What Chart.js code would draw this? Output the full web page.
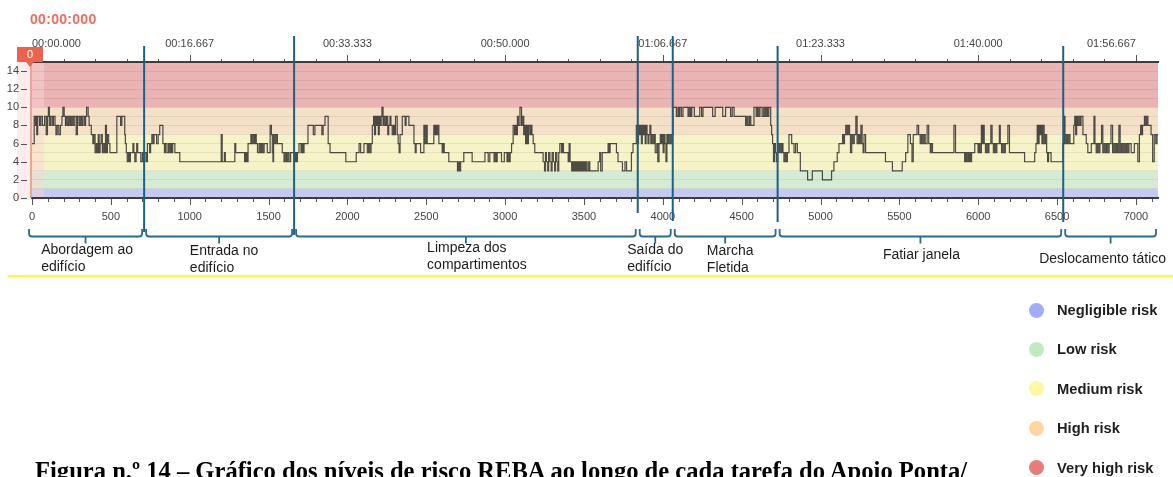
<!DOCTYPE html>
<html>
<head>
<meta charset="utf-8">
<script src="https://cdn.jsdelivr.net/npm/chart.js@4.4.0/dist/chart.umd.min.js"></script>
<style>
  html, body { margin: 0; padding: 0; background: #fff; }
  #wrap { position: relative; width: 1173px; height: 477px; overflow: hidden; font-family: "Liberation Sans", Arial, sans-serif; }
  #rebaChart { position: absolute; left: 0; top: 0; }
  #clock { position: absolute; left: 30px; top: 11px; font-size: 14px; font-weight: bold; color: #f26b5b; letter-spacing: 0.3px; }
  #marker { position: absolute; top: 47px; width: 26px; height: 15px; background: #e9634f; color: #fff; font-size: 11px; line-height: 15px; text-align: center; }
  #marker::after { content: ""; position: absolute; left: 9px; top: 15px; border-left: 4px solid transparent; border-right: 4px solid transparent; border-top: 5px solid #e9634f; }
  .task { position: absolute; transform: translateX(-50%); font-size: 14px; line-height: 17px; color: #1c1c1c; white-space: nowrap; }
  #rule { position: absolute; left: 8px; right: 0; top: 275px; height: 2px; background: #fbfb3c; }
  .leg { position: absolute; left: 1029px; height: 16px; font-size: 14.7px; font-weight: bold; color: #1e1e1e; line-height: 16px; white-space: nowrap; }
  .leg i { position: absolute; left: 0; top: 0.5px; width: 15px; height: 15px; border-radius: 50%; }
  .leg span { position: absolute; left: 28px; top: 0; }
  #caption { position: absolute; left: 35px; font-family: "Liberation Serif", "Times New Roman", serif; font-weight: bold; color: #000; white-space: nowrap; }
</style>
</head>
<body>
<div id="wrap">
  <canvas id="rebaChart" width="1173" height="477"></canvas>
  <div id="clock">00:00:000</div>
  <div id="marker">0</div>
  <div id="rule"></div>
  <div id="caption">Figura n.º 14 – Gráfico dos níveis de risco REBA ao longo de cada tarefa do Apoio Ponta/</div>
</div>
<script>
// video frames (60 fps) and REBA score, one pair per step change
const FPS = 60;
const playheadFrame = 0;

const abordagemSteps = [
  [0,6],[14,9],[22,8],[26,9],[30,7],[36,9],[48,8],[56,9],[66,8],[80,9],[90,7],[98,9],[104,10],[110,8],
  [118,9],[128,8],[136,9],[146,8],[152,7],[160,8],[170,7],[180,8],[190,9],[196,10],[204,9],[212,8],
  [220,9],[228,8],[236,9],[244,8],[252,9],[260,8],[268,9],[280,7],[288,9],[298,8],[306,9],[314,8],
  [322,9],[332,8],[340,9],[346,10],[356,9],[362,8],[376,7],[386,6],[392,7],[400,5],[408,6],[414,5],
  [420,7],[426,5],[432,6],[438,7],[446,5],[452,6],[460,5],[466,8],[472,5],[478,7],[486,6],[494,5],
  [538,9],[562,8],[570,9],[588,7],[592,6],[598,5],[604,4],[612,5],[618,4],[624,5],[640,6],[646,5],
  [652,4],[660,5],[664,6],[670,5],[690,4],[700,5],[708,4]
];
const entradaSteps = [
  [716,5],[726,4],[732,6],[746,5],[752,6],[760,7],[768,6],[774,7],[790,6],[800,7],[810,8],[830,6],
  [840,5],[846,6],[856,5],[866,6],[874,5],[880,6],[886,5],[892,6],[906,5],[937,4],[1200,7],[1206,4],
  [1220,5],[1226,4],[1286,6],[1292,5],[1348,4],[1352,5],[1356,4],[1360,5],[1366,4],[1370,6],[1388,7],
  [1394,6],[1402,7],[1410,6],[1416,7],[1422,6],[1430,5],[1440,6],[1448,5],[1456,6],[1464,5],[1472,6],
  [1492,5],[1510,8],[1518,7],[1524,5],[1528,4],[1532,7],[1540,6],[1548,7],[1556,6],[1587,5],[1598,4],
  [1606,5],[1614,4],[1622,5],[1630,4],[1640,5],[1662,4]
];
const limpezaSteps = [
  [1670,5],[1676,4],[1683,5],[1693,6],[1706,5],[1712,6],[1718,5],[1725,6],[1750,8],[1784,7],[1794,8],
  [1838,7],[1846,8],[1858,9],[1878,6],[1890,5],[1990,4],[2056,5],[2074,6],[2084,5],[2105,6],[2126,5],
  [2134,6],[2142,5],[2150,6],[2158,8],[2166,9],[2172,7],[2178,9],[2184,8],[2190,9],[2196,7],[2202,9],
  [2208,8],[2214,9],[2219,10],[2226,8],[2232,9],[2240,8],[2248,9],[2256,7],[2262,8],[2270,9],[2276,8],
  [2284,7],[2292,8],[2298,7],[2305,9],[2316,7],[2322,6],[2328,5],[2334,7],[2348,9],[2366,8],[2372,9],
  [2390,8],[2422,6],[2430,5],[2436,6],[2464,5],[2485,8],[2492,6],[2500,8],[2506,6],[2548,8],[2554,7],
  [2560,8],[2566,7],[2572,8],[2580,6],[2601,5],[2608,6],[2614,5],[2643,4],[2698,3],[2704,4],[2710,3],
  [2718,4],[2738,5],[2791,4],[2872,5],[2893,4],[2903,5],[2930,4],[2936,5],[2944,4],[2950,5],[2977,4],
  [2995,5],[3012,4],[3018,5],[3026,4],[3032,5],[3041,6],[3051,8],[3060,7],[3066,8],[3072,7],[3078,9],
  [3084,8],[3094,10],[3104,8],[3112,9],[3118,7],[3124,8],[3130,6],[3136,8],[3142,6],[3148,8],[3157,7],
  [3163,8],[3170,7],[3178,6],[3188,5],[3241,4],[3250,3],[3256,5],[3262,4],[3270,3],[3276,5],[3284,4],
  [3292,3],[3298,5],[3306,4],[3314,3],[3320,5],[3328,4],[3334,3],[3340,5],[3347,6],[3358,5],[3364,6],
  [3370,5],[3400,4],[3406,6],[3412,4],[3422,3],[3428,4],[3434,3],[3440,4],[3446,3],[3452,4],[3458,3],
  [3464,4],[3470,3],[3476,4],[3482,3],[3488,4],[3494,3],[3500,4],[3506,3],[3512,4],[3520,3],[3530,4],
  [3537,3],[3590,4],[3600,5],[3606,3],[3616,5],[3653,6],[3660,5],[3666,6],[3706,5],[3716,4],[3744,3],
  [3760,4],[3770,3],[3801,5],[3811,6],[3832,8]
];
const saidaSteps = [
  [3840,6],[3846,8],[3852,7],[3858,8],[3864,6],[3870,8],[3876,7],[3882,8],[3888,6],[3894,8],[3900,7],
  [3906,6],[3912,7],[3918,8],[3924,6],[3930,7],[3938,6],[3946,7],[3952,5],[3962,6],[3968,4],[3976,6],
  [3984,7],[3990,6],[3996,7],[4002,5],[4008,7],[4014,6],[4020,4],[4026,7],[4032,6],[4038,7],[4046,6],
  [4054,7]
];
const marchaSteps = [
  [4064,10],[4086,9],[4096,10],[4102,9],[4108,10],[4118,9],[4128,10],[4160,9],[4168,10],[4176,9],
  [4184,10],[4200,9],[4234,10],[4246,9],[4255,10],[4316,9],[4332,10],[4380,9],[4398,10],[4430,9],
  [4440,10],[4452,9],[4525,8],[4533,9],[4541,8],[4550,9],[4558,8],[4578,10],[4592,9],[4600,10],
  [4608,9],[4616,10],[4630,9],[4640,10],[4648,9],[4656,10],[4664,9],[4672,10],[4684,8],[4690,7],
  [4696,6],[4702,4],[4708,6],[4714,5],[4720,4]
];
const fatiarSteps = [
  [4728,6],[4736,5],[4742,6],[4750,5],[4756,6],[4762,5],[4768,4],[4776,5],[4782,4],[4790,5],[4800,7],
  [4817,6],[4832,5],[4842,6],[4853,5],[4872,3],[4918,2],[4948,3],[5012,2],[5070,3],[5085,4],[5106,5],
  [5117,6],[5140,7],[5146,6],[5152,7],[5160,8],[5168,7],[5176,8],[5184,7],[5190,5],[5198,7],[5206,6],
  [5214,7],[5224,9],[5232,6],[5240,7],[5248,6],[5256,8],[5264,6],[5270,5],[5276,7],[5286,5],[5412,4],
  [5456,3],[5518,4],[5540,5],[5554,7],[5570,6],[5580,4],[5588,7],[5612,8],[5622,7],[5632,6],[5640,7],
  [5648,6],[5656,7],[5664,6],[5676,8],[5686,6],[5696,5],[5702,6],[5710,5],[5846,8],[5856,5],[5914,4],
  [5920,5],[5926,4],[5934,5],[5940,4],[5946,5],[5952,4],[5958,5],[5978,6],[5999,5],[6006,6],[6012,5],
  [6020,8],[6026,6],[6032,8],[6038,6],[6046,5],[6054,6],[6062,5],[6068,6],[6080,8],[6088,6],[6096,5],
  [6104,6],[6112,5],[6118,6],[6134,8],[6140,6],[6148,5],[6156,6],[6164,5],[6172,6],[6188,8],[6198,5],
  [6294,4],[6358,5],[6366,6],[6374,8],[6380,6],[6386,8],[6392,7],[6398,8],[6404,6],[6410,8],[6418,6],
  [6426,7],[6434,5],[6440,4],[6446,5],[6462,4]
];
const deslocamentoSteps = [
  [6537,6],[6544,9],[6550,6],[6558,7],[6566,6],[6574,7],[6582,6],[6606,8],[6612,9],[6618,7],[6624,9],
  [6630,8],[6638,9],[6646,8],[6652,9],[6664,7],[6685,6],[6695,5],[6717,6],[6734,9],[6740,6],[6748,5],
  [6756,6],[6764,5],[6772,6],[6782,8],[6790,5],[6798,6],[6806,5],[6814,6],[6822,5],[6830,6],[6842,8],
  [6852,5],[6860,6],[6868,5],[6876,6],[6884,5],[6892,8],[6900,5],[6908,6],[6916,5],[6924,6],[6932,5],
  [6940,6],[6948,5],[6956,6],[6970,5],[6990,6],[7012,4],[7022,7],[7030,8],[7036,7],[7042,8],[7054,9],
  [7062,8],[7068,9],[7076,8],[7096,7],[7106,4],[7116,7],[7126,6],[7134,7],[7140,7]
];

const taskNames = [
  ['Abordagem ao', 'edifício'], ['Entrada no', 'edifício'], ['Limpeza dos', 'compartimentos'],
  ['Saída do', 'edifício'], ['Marcha', 'Fletida'], ['Fatiar janela'], ['Deslocamento tático']
];
const taskEdges = [0, 711, 1662, 3841, 4063, 4728, 6539, 7140];

const riskNames = ['Negligible risk', 'Low risk', 'Medium risk', 'High risk', 'Very high risk'];
const riskLower = [0, 1, 3, 7, 10];
const riskUpper = [1, 3, 7, 10, 15];

// styling
const bandFills = ['#c6c9f2', '#d6ebd3', '#f7f3c9', '#f4e0c6', '#ebb4b4'];
const legendDots = ['#a2acf8', '#c4e8c2', '#fdf8a4', '#fdd6a2', '#e87b7b'];
const lineBlue = '#1f5f84';
const lineTops = [46, 36, 36, 36, 46, 46];
const lineBottoms = [232, 235, 213, 221, 222, 222];
const labelNudge = [-1, 5, 11, 0, 5, 1, -8];
const labelTops = [241, 242, 239, 241, 242, 246, 250];

Chart.defaults.font.family = "'Liberation Sans', Arial, sans-serif";

const pad = (n, w) => String(n).padStart(w, '0');
function frameClock(f) {
  const ms = Math.round(f / FPS * 1000);
  return pad(Math.floor(ms / 60000), 2) + ':' + pad(Math.floor(ms % 60000 / 1000), 2) + '.' + pad(ms % 1000, 3);
}

const riskBands = {
  id: 'riskBands',
  beforeDraw(chart) {
    const { ctx, chartArea: a, scales: { x, y } } = chart;
    ctx.save();
    riskLower.forEach((lo, i) => {
      const top = y.getPixelForValue(riskUpper[i]);
      const bot = y.getPixelForValue(lo);
      ctx.fillStyle = bandFills[i];
      ctx.fillRect(a.left, top, a.right - a.left, bot - top);
    });
    const px = x.getPixelForValue(playheadFrame);
    ctx.fillStyle = 'rgba(250,212,212,0.45)';
    ctx.fillRect(px - 15, a.top, 27, a.bottom - a.top + 2);
    ctx.restore();
  }
};

const overlays = {
  id: 'overlays',
  afterDraw(chart) {
    const { ctx, chartArea: a, scales: { x, xTime, y } } = chart;
    ctx.save();
    // tick marks
    ctx.strokeStyle = '#555';
    ctx.lineWidth = 1;
    ctx.beginPath();
    x.ticks.forEach(t => {
      const px = Math.round(x.getPixelForValue(t.value)) + 0.5;
      ctx.moveTo(px, a.bottom + 1);
      ctx.lineTo(px, a.bottom + (t.value % 500 === 0 ? 7 : 4));
    });
    xTime.ticks.forEach(t => {
      const px = Math.round(xTime.getPixelForValue(t.value)) + 0.5;
      ctx.moveTo(px, a.top - 1);
      ctx.lineTo(px, a.top - (t.value % 1000 === 0 ? 7 : 3));
    });
    y.ticks.forEach(t => {
      if (t.value % 2) return;
      const py = Math.round(y.getPixelForValue(t.value)) + 0.5;
      ctx.moveTo(a.left - 11, py);
      ctx.lineTo(a.left - 5, py);
    });
    ctx.stroke();

    // playhead
    const ph = x.getPixelForValue(playheadFrame) - 1;
    ctx.strokeStyle = 'rgba(238,120,105,0.85)';
    ctx.lineWidth = 1.5;
    ctx.beginPath();
    ctx.moveTo(ph, a.top);
    ctx.lineTo(ph, a.bottom);
    ctx.stroke();

    // task boundaries
    ctx.strokeStyle = lineBlue;
    ctx.lineWidth = 2;
    taskEdges.slice(1, -1).forEach((f, i) => {
      const px = x.getPixelForValue(f);
      ctx.beginPath();
      ctx.moveTo(px, lineTops[i]);
      ctx.lineTo(px, lineBottoms[i]);
      ctx.stroke();
    });

    // braces under each task
    ctx.strokeStyle = '#2b6a8f';
    ctx.lineWidth = 1.8;
    const hookTop = 229, bar = 236.5, r = 3;
    taskNames.forEach((_, i) => {
      const x1 = x.getPixelForValue(taskEdges[i]) + (i === 0 ? -3 : 2);
      const x2 = x.getPixelForValue(taskEdges[i + 1]) - 2;
      const mid = (x1 + x2) / 2;
      ctx.beginPath();
      ctx.moveTo(x1, hookTop);
      ctx.lineTo(x1, bar - r);
      ctx.quadraticCurveTo(x1, bar, x1 + r, bar);
      ctx.lineTo(x2 - r, bar);
      ctx.quadraticCurveTo(x2, bar, x2, bar - r);
      ctx.lineTo(x2, hookTop);
      ctx.moveTo(mid, bar);
      ctx.lineTo(mid, bar + 7);
      ctx.stroke();
    });
    ctx.restore();
  }
};

const allSteps = [].concat(abordagemSteps, entradaSteps, limpezaSteps, saidaSteps,
  marchaSteps, fatiarSteps, deslocamentoSteps);

const chart = new Chart(document.getElementById('rebaChart'), {
  type: 'line',
  data: {
    datasets: [{
      data: allSteps.map(([f, s]) => ({ x: f, y: s })),
      stepped: true,
      borderColor: 'rgba(30,30,30,0.78)',
      borderWidth: 1.2,
      pointRadius: 0,
      fill: false
    }]
  },
  options: {
    responsive: false,
    animation: false,
    layout: { padding: { left: 2, top: 32, right: 15, bottom: 249 } },
    plugins: { legend: { display: false }, tooltip: { enabled: false } },
    scales: {
      x: {
        type: 'linear', position: 'bottom', min: 0, max: 7140,
        ticks: {
          stepSize: 100, includeBounds: false, autoSkip: false, maxRotation: 0, padding: 12,
          color: '#444', font: { size: 11 },
          callback: v => (v % 500 === 0 ? v : '')
        },
        grid: { drawOnChartArea: false, drawTicks: false },
        border: { color: '#3d3d3d', width: 2 },
        afterFit: s => { s.height = 30; }
      },
      xTime: {
        type: 'linear', position: 'top', min: 0, max: 7140,
        ticks: {
          stepSize: 200, includeBounds: false, autoSkip: false, maxRotation: 0, padding: 11, align: 'inner',
          color: '#444', font: { size: 11 },
          callback: v => (v % 1000 === 0 ? frameClock(v) : '')
        },
        grid: { drawOnChartArea: false, drawTicks: false },
        border: { color: '#3d3d3d', width: 2 },
        afterFit: s => { s.height = 30; }
      },
      y: {
        min: 0, max: 15,
        ticks: {
          stepSize: 1, autoSkip: false, padding: 13, color: '#444', font: { size: 11 },
          callback: v => (v % 2 === 0 ? v : '')
        },
        grid: { color: 'rgba(0,0,0,0.07)', drawTicks: false },
        border: { display: false },
        afterFit: s => { s.width = 30; }
      }
    }
  },
  plugins: [riskBands, overlays]
});

// html overlays tied to the chart scale
const wrap = document.getElementById('wrap');
const xs = chart.scales.x;
document.getElementById('marker').style.left = (xs.getPixelForValue(playheadFrame) - 15) + 'px';

taskNames.forEach((lines, i) => {
  const mid = (xs.getPixelForValue(taskEdges[i]) + xs.getPixelForValue(taskEdges[i + 1])) / 2;
  const div = document.createElement('div');
  div.className = 'task';
  div.style.left = (mid + labelNudge[i]) + 'px';
  div.style.top = labelTops[i] + 'px';
  lines.forEach((line, k) => {
    if (k) div.appendChild(document.createElement('br'));
    div.appendChild(document.createTextNode(line));
  });
  wrap.appendChild(div);
});

riskNames.forEach((name, i) => {
  const item = document.createElement('div');
  item.className = 'leg';
  item.style.top = (302 + i * 39.4) + 'px';
  const dot = document.createElement('i');
  dot.style.background = legendDots[i];
  const txt = document.createElement('span');
  txt.textContent = name;
  item.appendChild(dot);
  item.appendChild(txt);
  wrap.appendChild(item);
});

// caption: fit the bold serif line to its printed width
const cap = document.getElementById('caption');
const mctx = document.createElement('canvas').getContext('2d');
mctx.font = 'bold 20px "Liberation Serif"';
const capSize = 20 * 935 / mctx.measureText(cap.textContent).width;
cap.style.fontSize = capSize.toFixed(2) + 'px';
cap.style.lineHeight = capSize.toFixed(2) + 'px';
cap.style.top = (480 - 0.8375 * capSize) + 'px';
</script>
</body>
</html>
